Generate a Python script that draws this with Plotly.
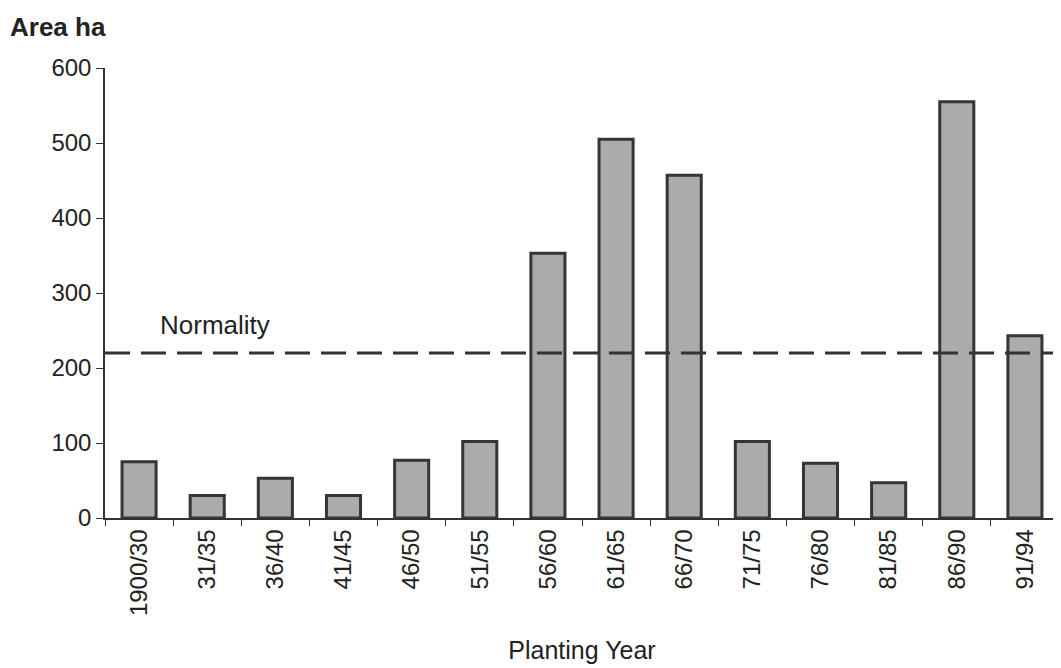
import plotly.graph_objects as go

categories = ["1900/30", "31/35", "36/40", "41/45", "46/50", "51/55", "56/60",
              "61/65", "66/70", "71/75", "76/80", "81/85", "86/90", "91/94"]
area_ha = [75, 30, 53, 30, 77, 102, 353, 505, 457, 102, 73, 47, 555, 243]
normality = 220
y_ticks = [0, 100, 200, 300, 400, 500, 600]

FONT = "Liberation Sans, Arial, sans-serif"

fig = go.Figure()
fig.add_trace(go.Bar(
    x=categories, y=area_ha,
    marker=dict(color="#ababab", line=dict(color="#353535", width=3)),
    width=0.5,
    showlegend=False,
))

fig.add_shape(type="line", xref="paper", yref="y", x0=0.0, x1=1,
              y0=normality, y1=normality,
              line=dict(color="#333333", width=3, dash="25px,11px"))

fig.add_annotation(text="Normality", xref="paper", yref="y", x=0.056, y=normality + 37,
                   xanchor="left", yanchor="middle", showarrow=False,
                   font=dict(family=FONT, size=26, color="#222222"))

fig.add_annotation(text="<b>Area ha</b>", xref="paper", yref="paper", x=-0.102, y=1.0,
                   xanchor="left", yanchor="middle", yshift=41, showarrow=False,
                   font=dict(family=FONT, size=26, color="#222222"))

fig.update_layout(
    width=1061, height=668,
    margin=dict(l=97, r=10, t=60, b=158, autoexpand=False),
    paper_bgcolor="white", plot_bgcolor="white",
    font=dict(family=FONT, size=24, color="#222222"),
    bargap=0.5,
    xaxis=dict(
        title=dict(text="Planting Year", font=dict(size=25), standoff=26),
        tickangle=-90, showline=True, linecolor="#333333", linewidth=1.5,
        ticks="outside", tickson="boundaries", ticklen=6, tickcolor="#333333",
        showgrid=False, tickfont=dict(size=24),
    ),
    yaxis=dict(
        range=[0, 600], tickvals=y_ticks, showline=True, linecolor="#333333",
        linewidth=1.5, ticks="outside", ticklen=7, tickcolor="#333333",
        showgrid=False, zeroline=False, tickfont=dict(size=24),
    ),
)

fig.write_html("out.html")
